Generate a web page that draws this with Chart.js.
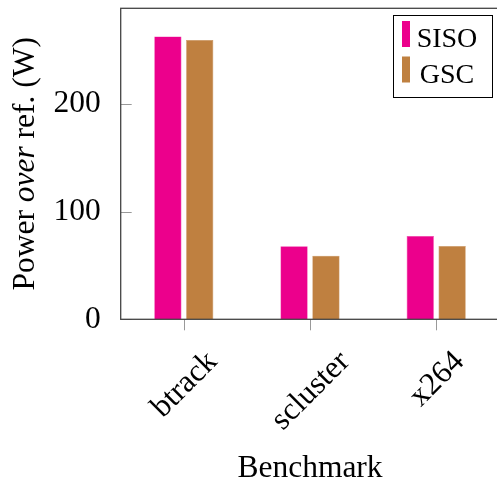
<!DOCTYPE html>
<html>
<head>
<meta charset="utf-8">
<script src="https://cdn.jsdelivr.net/npm/chart.js@4/dist/chart.umd.min.js"></script>
<style>
  html, body { margin: 0; padding: 0; background: #fff; overflow: hidden; }
  #wrap { position: relative; width: 500px; height: 487px; }
</style>
</head>
<body>
<div id="wrap"><canvas id="chart" width="500" height="487"></canvas></div>
<script>
const benchmarks = ['btrack', 'scluster', 'x264'];
const sisoPower = [262.9, 67.8, 77.4];
const gscPower = [259.5, 59.1, 68.1];
const yTicks = [0, 100, 200];

const FONT = '"Liberation Serif", "Times New Roman", serif';
const SIZE = 31.5;

// frame, inner ticks, rotated labels, axis titles and legend box (pgfplots style)
const decor = {
  id: 'decor',
  afterDraw(chart) {
    const { ctx, chartArea: a, scales: { x, y } } = chart;
    ctx.save();

    ctx.strokeStyle = '#999';
    ctx.lineWidth = 1;
    yTicks.forEach(v => {
      const py = Math.round(y.getPixelForValue(v)) + 0.5;
      ctx.beginPath();
      ctx.moveTo(a.left, py);
      ctx.lineTo(a.left + 11, py);
      ctx.stroke();
    });
    benchmarks.forEach((_, i) => {
      const px = Math.round(x.getPixelForValue(i)) + 0.5;
      ctx.beginPath();
      ctx.moveTo(px, a.bottom);
      ctx.lineTo(px, a.bottom + 11);
      ctx.stroke();
    });

    ctx.strokeStyle = '#444';
    ctx.lineWidth = 1.3;
    ctx.strokeRect(a.left, a.top, a.right - a.left, a.bottom - a.top);

    // x tick labels, rotated 45 deg, centred under the tick
    ctx.fillStyle = '#000';
    ctx.font = SIZE + 'px ' + FONT;
    ctx.textAlign = 'center';
    ctx.textBaseline = 'middle';
    benchmarks.forEach((b, i) => {
      const w = ctx.measureText(b).width;
      const h = (w + 20) * Math.SQRT1_2;
      const px = x.getPixelForValue(i);
      ctx.save();
      ctx.translate(px + 1, 350 + h / 2);
      ctx.rotate(-Math.PI / 4);
      ctx.fillText(b, 0, 0);
      ctx.restore();
    });

    // x title
    ctx.textBaseline = 'alphabetic';
    ctx.fillText('Benchmark', (a.left + a.right) / 2, 477);

    // y title with italic word
    const parts = [['Power ', ''], ['over', 'italic '], [' ref. (W)', '']];
    let total = 0;
    parts.forEach(p => { ctx.font = p[1] + SIZE + 'px ' + FONT; total += ctx.measureText(p[0]).width; });
    ctx.save();
    ctx.translate(34, (a.top + a.bottom) / 2);
    ctx.rotate(-Math.PI / 2);
    ctx.textAlign = 'left';
    let cx = -total / 2;
    parts.forEach(p => {
      ctx.font = p[1] + SIZE + 'px ' + FONT;
      ctx.fillText(p[0], cx, 0);
      cx += ctx.measureText(p[0]).width;
    });
    ctx.restore();

    // legend
    ctx.fillStyle = '#fff';
    ctx.fillRect(393.5, 15.5, 99, 82);
    ctx.strokeStyle = '#000';
    ctx.lineWidth = 1;
    ctx.strokeRect(393.5, 15.5, 99, 82);
    ctx.font = '28px ' + FONT;
    ctx.textAlign = 'center';
    chart.data.datasets.forEach((ds, i) => {
      const top = 21 + i * 35.5;
      ctx.fillStyle = ds.backgroundColor;
      ctx.fillRect(402, top, 8, 26);
      ctx.fillStyle = '#000';
      ctx.fillText(ds.label, 447, top + 26);
    });

    ctx.restore();
  }
};

new Chart(document.getElementById('chart'), {
  type: 'bar',
  data: {
    labels: benchmarks,
    datasets: [
      { label: 'SISO', data: sisoPower, backgroundColor: '#ec008c', borderColor: '#f03ca6', borderWidth: 0.6 },
      { label: 'GSC', data: gscPower, backgroundColor: '#bf8040', borderColor: '#c8905a', borderWidth: 0.6 }
    ]
  },
  options: {
    responsive: false,
    animation: false,
    events: [],
    categoryPercentage: 0.505,
    barPercentage: 0.856,
    layout: { padding: { top: 8.3, right: 0.7, left: 0, bottom: 0 } },
    plugins: { legend: { display: false }, tooltip: { enabled: false } },
    scales: {
      x: {
        offset: true,
        grid: { display: false },
        border: { display: false },
        ticks: { display: false },
        afterFit: s => { s.height = 487 - 319.3; s.paddingLeft = 0; s.paddingRight = 0; }
      },
      y: {
        min: 0,
        max: 289,
        afterBuildTicks: s => { s.ticks = yTicks.map(v => ({ value: v })); },
        grid: { display: false },
        border: { display: false },
        ticks: { color: '#000', font: { family: FONT, size: SIZE }, padding: 12 },
        afterFit: s => { s.width = 120.7; s.paddingTop = 0; s.paddingBottom = 0; }
      }
    }
  },
  plugins: [decor]
});
</script>
</body>
</html>
